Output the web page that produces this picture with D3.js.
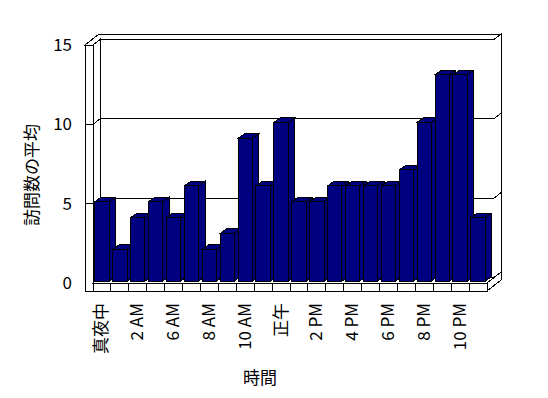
<!DOCTYPE html>
<html>
<head>
<meta charset="utf-8">
<script src="https://d3js.org/d3.v7.min.js"></script>
<style>
  body { margin: 0; background: #fff; }
  text { font-family: "Noto Sans CJK JP", sans-serif; font-size: 17px; fill: #000; }
</style>
</head>
<body>
<svg id="chart" width="548" height="398"></svg>
<script>
// hours shown on the category axis (some hours have no data)
const hours = ["真夜中", "1 AM", "2 AM", "3 AM", "6 AM", "7 AM", "8 AM", "9 AM", "10 AM", "11 AM",
  "正午", "1 PM", "2 PM", "3 PM", "4 PM", "5 PM", "6 PM", "7 PM", "8 PM", "9 PM", "10 PM", "11 PM"];
// average visits per hour
const visits = [5, 2, 4, 5, 4, 6, 2, 3, 9, 6, 10, 5, 5, 6, 6, 6, 6, 7, 10, 13, 13, 4];
const yTicks = [0, 5, 10, 15];

const svg = d3.select("#chart");

// 3d layout: front plane and a depth vector
const dx = 7, dy = -5.5;
const x = d3.scaleBand().domain(hours).range([93, 487]).paddingInner(0.2).paddingOuter(0.1);
const y = d3.scaleLinear().domain([0, 15]).range([283, 45]);
const step = x.step();
const xL = 93, xR = 487, wallX = 85, floorH = 8;
const baseY = y(0), topY = y(15);
const line = d3.line();

const g = svg.append("g").attr("shape-rendering", "crispEdges")
  .style("stroke", "#000").style("stroke-width", 1);

// back wall front face
g.append("rect")
  .attr("x", xL + dx).attr("y", topY + dy)
  .attr("width", xR - xL).attr("height", baseY - topY)
  .style("fill", "#fff");
// back wall right end face and top face
g.append("path")
  .attr("d", line([[xR + dx, topY + dy], [xR + 2 * dx, topY + 2 * dy], [xR + 2 * dx, baseY + 2 * dy], [xR + dx, baseY + dy]]))
  .style("fill", "#fff");
g.append("path")
  .attr("d", line([[wallX, topY], [wallX + 2 * dx, topY + 2 * dy], [xR + 2 * dx, topY + 2 * dy], [xR + dx, topY + dy], [xL + dx, topY + dy], [xL, topY]]) + "Z")
  .style("fill", "#fff");
// left wall inner face
g.append("path")
  .attr("d", line([[xL, topY], [xL + dx, topY + dy], [xL + dx, baseY + dy], [xL, baseY]]) + "Z")
  .style("fill", "#fff");
// left wall front face
g.append("rect")
  .attr("x", wallX).attr("y", topY)
  .attr("width", xL - wallX).attr("height", baseY + floorH - topY)
  .style("fill", "#fff");

// gridlines across left wall, back wall and its edge
g.selectAll(".grid")
  .data(yTicks.filter(v => v > 0 && v < 15))
  .join("path")
    .attr("class", "grid")
    .attr("d", v => line([[wallX, y(v)], [xL, y(v)], [xL + dx, y(v) + dy],
      [xR + dx, y(v) + dy], [xR + 2 * dx, y(v) + 2 * dy]]))
    .style("fill", "none");

// floor top, right end and front face
g.append("path")
  .attr("d", line([[xL, baseY], [xR, baseY], [xR + dx, baseY + dy], [xL + dx, baseY + dy]]) + "Z")
  .style("fill", "#fff");
g.append("path")
  .attr("d", line([[xR, baseY], [xR + 2 * dx, baseY + 2 * dy], [xR + 2 * dx, baseY + floorH + 2 * dy], [xR, baseY + floorH]]) + "Z")
  .style("fill", "#fff");
g.append("rect")
  .attr("x", xL).attr("y", baseY)
  .attr("width", xR - xL).attr("height", floorH)
  .style("fill", "#fff");
g.selectAll(".tick")
  .data(d3.range(1, hours.length))
  .join("line")
    .attr("class", "tick")
    .attr("x1", i => xL + i * step).attr("x2", i => xL + i * step)
    .attr("y1", baseY).attr("y2", baseY + floorH);

// bars
const bw = x.bandwidth(), bdx = 6.5, bdy = -4.5, lift = 2;
const bars = g.selectAll(".bar")
  .data(visits.map((v, i) => ({ h: hours[i], v })))
  .join("g")
    .attr("class", "bar")
    .style("fill", "#000080");
bars.append("path")
  .attr("d", d => {
    const x0 = x(d.h), yt = y(d.v) - lift, yb = baseY - lift;
    return line([[x0 + bw, yt], [x0 + bw + bdx, yt + bdy], [x0 + bw + bdx, yb + bdy], [x0 + bw, yb]]) + "Z";
  });
bars.append("path")
  .attr("d", d => {
    const x0 = x(d.h), yt = y(d.v) - lift;
    return line([[x0, yt], [x0 + bdx, yt + bdy], [x0 + bw + bdx, yt + bdy], [x0 + bw, yt]]) + "Z";
  });
bars.append("rect")
  .attr("x", d => x(d.h)).attr("y", d => y(d.v) - lift)
  .attr("width", bw).attr("height", d => y(0) - y(d.v));

// value axis labels
svg.selectAll(".ylab")
  .data(yTicks)
  .join("text")
    .attr("class", "ylab")
    .attr("x", 72).attr("y", v => y(v) - 1.5)
    .attr("text-anchor", "end").attr("dominant-baseline", "central")
    .text(v => v);

// category labels, every other hour
svg.selectAll(".xlab")
  .data(hours.filter((h, i) => i % 2 === 0))
  .join("text")
    .attr("class", "xlab")
    .attr("transform", h => `translate(${x(h) + bw / 2 - 2},303) rotate(-90)`)
    .attr("text-anchor", "end").attr("dominant-baseline", "central")
    .text(h => h);

// axis titles
svg.append("text")
  .attr("transform", "translate(30,175) rotate(-90)")
  .attr("text-anchor", "middle").attr("dominant-baseline", "central")
  .text("訪問数の平均");
svg.append("text")
  .attr("x", 260).attr("y", 376)
  .attr("text-anchor", "middle").attr("dominant-baseline", "central")
  .text("時間");
</script>
</body>
</html>
